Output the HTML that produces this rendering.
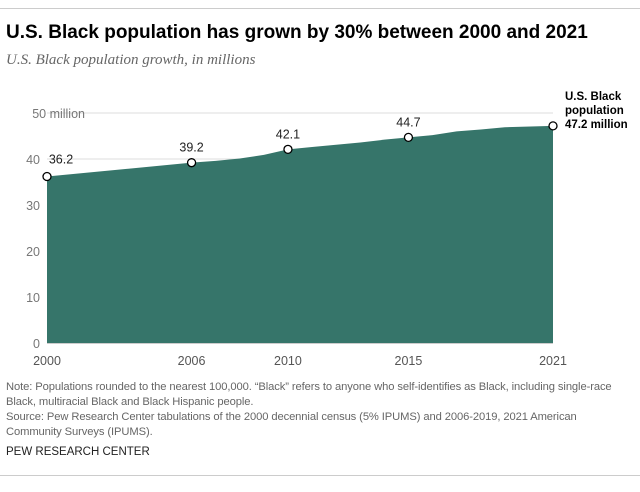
<!DOCTYPE html>
<html><head><meta charset="utf-8"><style>
body{margin:0;width:640px;height:492px;background:#fff;font-family:"Liberation Sans",sans-serif;position:relative;overflow:hidden}
.t{position:absolute;left:6px;top:22px;font-size:19px;font-weight:bold;color:#000}
.s{position:absolute;left:6px;top:52px;font-size:15px;font-style:italic;font-family:"Liberation Serif",serif;color:#666}
.note{position:absolute;left:6px;top:380px;font-size:11.2px;line-height:15px;color:#666;width:634px;white-space:nowrap;letter-spacing:-0.1px}
.src{position:absolute;left:6px;top:446px;font-size:11.5px;color:#222}
.rule{position:absolute;left:0;width:640px;border-top:1px solid #ccc}
</style></head><body>
<div class="rule" style="top:8px"></div>
<div class="t">U.S. Black population has grown by 30% between 2000 and 2021</div>
<div class="s">U.S. Black population growth, in millions</div>
<svg id="c" width="640" height="380" style="position:absolute;left:0;top:0"></svg>
<div class="note">Note: Populations rounded to the nearest 100,000. “Black” refers to anyone who self-identifies as Black, including single-race<br>Black, multiracial Black and Black Hispanic people.<br>Source: Pew Research Center tabulations of the 2000 decennial census (5% IPUMS) and 2006-2019, 2021 American<br>Community Surveys (IPUMS).</div>
<div class="src">PEW RESEARCH CENTER</div>
<div class="rule" style="top:475px"></div>
<script>
const years=[2000,2006,2007,2008,2009,2010,2011,2012,2013,2014,2015,2016,2017,2018,2019,2021];
const values=[36.2,39.2,39.6,40.1,40.9,42.1,42.6,43.1,43.6,44.2,44.7,45.2,46.0,46.4,46.9,47.2];
const labeledYears=[2000,2006,2010,2015,2021];
const labeledValues=[36.2,39.2,42.1,44.7,47.2];
const yTicks=[0,10,20,30,40,50];
const xTickLabels=[2000,2006,2010,2015,2021];
const svg=document.getElementById('c'),NS='http://www.w3.org/2000/svg';
const x=y=>47+(y-2000)*(553-47)/21, y=v=>343-v*4.6;
function el(t,a,p){const e=document.createElementNS(NS,t);for(const k in a)e.setAttribute(k,a[k]);(p||svg).appendChild(e);return e;}
yTicks.forEach(t=>{
 const l=el('line',{x1:47,x2:553,y1:y(t),y2:y(t),stroke:t==0?'#999':'#ddd','stroke-width':1});
 
 
 const tx=el('text',{x:40,y:y(t)+5,'text-anchor':'end','font-size':12.5,fill:'#777'});
 tx.textContent=t==50?'50 million':t;
 
 
 if(t==50)tx.setAttribute('x',85);
});
let d='M'+x(years[0])+','+y(0);
years.forEach((yr,i)=>d+=' L'+x(yr)+','+y(values[i]));
d+=' L'+x(years[years.length-1])+','+y(0)+'Z';
const a=el('path',{d:d,fill:'#36756a'});


xTickLabels.forEach(t=>{
 const tx=el('text',{x:x(t),y:365,'text-anchor':'middle','font-size':12.5,fill:'#555'});
 tx.textContent=t;
 
 
});
labeledYears.forEach((yr,i)=>{
 const c=el('circle',{cx:x(yr),cy:y(labeledValues[i]),r:4,fill:'#fff',stroke:'#000','stroke-width':1.3});
 
 
 if(i<labeledYears.length-1){
  const tx=el('text',{x:x(yr)+(i==0?14:0),y:y(labeledValues[i])-(i==0?13:11),'text-anchor':'middle','font-size':12.5,fill:'#222'});
  tx.textContent=labeledValues[i].toFixed(1);
  
  
 }
});
const lab=['U.S. Black','population',labeledValues[4].toFixed(1)+' million'];
lab.forEach((s,i)=>{
 const tx=el('text',{x:565,y:100+i*14,'font-size':11.5,'font-weight':'bold',fill:'#000'});
 tx.textContent=s;
 
 
});
</script>
</body></html>
